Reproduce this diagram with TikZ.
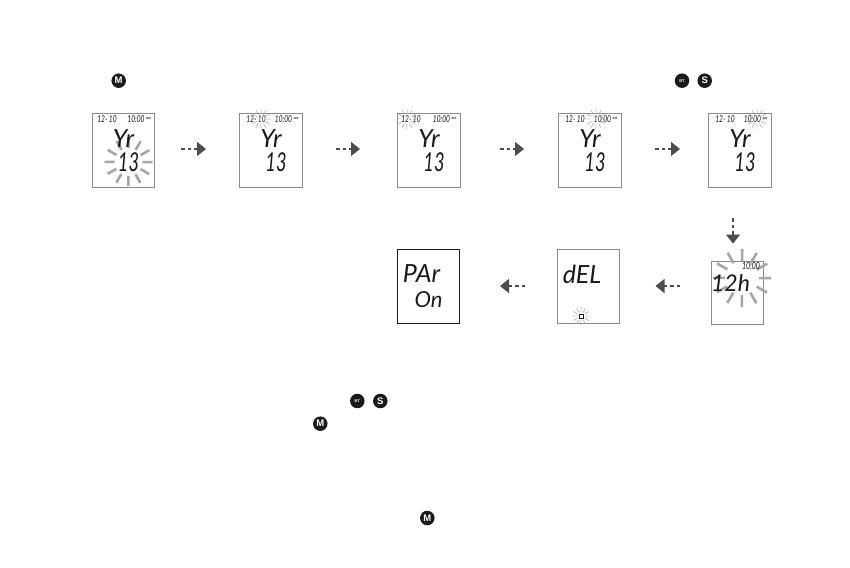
\documentclass[tikz,border=0pt]{standalone}
\usepackage{fontspec}
\setmainfont{Lato}
\newfontfamily\lcd{Lato}
\newfontfamily\lcdn[FakeStretch=0.7]{Lato}
\newfontfamily\iconf{Liberation Sans}
\usetikzlibrary{arrows.meta}
\definecolor{dk}{HTML}{1A1A1A}
\definecolor{ar}{HTML}{4D4D4D}
\definecolor{bx}{HTML}{8C8C8C}
\definecolor{ray}{HTML}{A6A6A6}
\tikzset{x=1pt,y=-1pt,
 screen/.style={draw=bx,line width=.7pt,fill=white,anchor=north west,inner sep=0pt},
 big/.style={font=\lcd\itshape\fontsize{25}{25}\selectfont,text=dk,inner sep=0pt},
 bign/.style={font=\lcdn\itshape\fontsize{26}{26}\selectfont,text=dk,inner sep=0pt},
 small/.style={font=\lcdn\itshape\fontsize{9.5}{9.5}\selectfont,text=dk,inner sep=0pt},
 tiny/.style={font=\lcd\bfseries\fontsize{3}{3}\selectfont,text=dk,inner sep=0pt},
 icon/.style={circle,fill=dk,text=white,minimum size=14.5pt,inner sep=0pt,font=\iconf\bfseries\fontsize{9.5}{9.5}\selectfont},
 iconsm/.style={icon,font=\iconf\bfseries\fontsize{4}{4}\selectfont},
 flow/.style={draw=ar,line width=1.3pt,dash pattern=on 3.5pt off 3pt,-{Triangle[length=9pt,width=14pt,fill=ar]}},
 sray/.style={draw=ray,line width=2.6pt},
 fray/.style={draw=ray,line width=.5pt}
}
\newcommand{\burst}[5]{% x y inner outer style
 \foreach \a in {0.4,30.4,...,330.4}{\draw[#5] ({#1+#3*cos(\a)},{#2+#3*sin(\a)}) -- ({#1+#4*cos(\a)},{#2+#4*sin(\a)});}}
\newcommand{\yrscreen}[4]{% left x, name, date offset, burst code
 \node[screen,minimum width=62.5pt,minimum height=74pt] (#2) at (#1,113) {};
 #4
 \node[small] (#2d) at (#1+#3,119) {12- 10};
 \node[small] (#2t) at (#1+44.5,119) {10:00};
 \node[tiny] (#2m) at (#1+57,118) {AM};
 \node[big] (#2y) at (#1+32,138.5) {Yr};
 \node[bign] (#2n) at (#1+37,162) {13};
}
\begin{document}
\begin{tikzpicture}
\useasboundingbox (0,0) rectangle (850,567);
\fill[white] (0,0) rectangle (850,567);
\node[icon] (ma) at (118.7,80.7) {M};
\node[iconsm] (ia) at (682,80.7) {BT};
\node[icon] (sa) at (704.7,80.7) {S};

\yrscreen{91.5}{sa1}{15.5}{\burst{128.5}{162}{14}{24}{sray}}
\yrscreen{239}{sb}{17}{\burst{261}{119}{5}{10}{fray}}
\yrscreen{397}{sc}{14}{\burst{407}{119}{5}{10}{fray}}
\yrscreen{558}{sd}{17}{\burst{596}{119}{5}{10}{fray}}
\yrscreen{708}{se}{17}{\burst{757}{119}{5}{10}{fray}}

% second row
\node[screen,draw=dk,minimum width=62pt,minimum height=74pt] (sh) at (396.5,249) {};
\node[big] (par) at (421.5,274) {PAr};
\node[big,font=\lcd\itshape\fontsize{22}{22}\selectfont] (on) at (428.5,300) {On};
\node[screen,minimum width=62pt,minimum height=74pt] (sg) at (557,249) {};
\node[big] (del) at (582,274.5) {dEL};
\burst{581}{316}{4}{9}{fray}
\node[draw=dk,line width=.4pt,minimum size=4pt,inner sep=0pt] (bat) at (581,316) {};
\node[screen,minimum width=52.5pt,minimum height=63pt] (sf) at (710.5,261) {};
\burst{742}{278}{17}{29}{sray}
\node[big,font=\lcd\itshape\fontsize{23}{23}\selectfont] (h12) at (730.5,283) {12h};
\node[small,font=\lcdn\itshape\fontsize{10}{10}\selectfont] (ft) at (751,266) {10:00};

\coordinate (a1s) at (181,149); \coordinate (a1e) at (206,149);
\coordinate (a2s) at (336,149); \coordinate (a2e) at (360,149);
\coordinate (a3s) at (500,149); \coordinate (a3e) at (524,149);
\coordinate (a4s) at (655,149); \coordinate (a4e) at (680,149);
\coordinate (a5s) at (733,218); \coordinate (a5e) at (733,243.5);
\coordinate (a6s) at (680,286); \coordinate (a6e) at (655.5,286);
\coordinate (a7s) at (525,286); \coordinate (a7e) at (500,286);
\foreach \i in {1,...,7}{\draw[flow] (a\i s) -- (a\i e);}

\node[iconsm] (ib) at (357.3,401) {BT};
\node[icon] (sb2) at (380.3,401) {S};
\node[icon] (mb) at (320.3,423.7) {M};
\node[icon] (mc) at (427.3,518) {M};
\end{tikzpicture}
\end{document}
